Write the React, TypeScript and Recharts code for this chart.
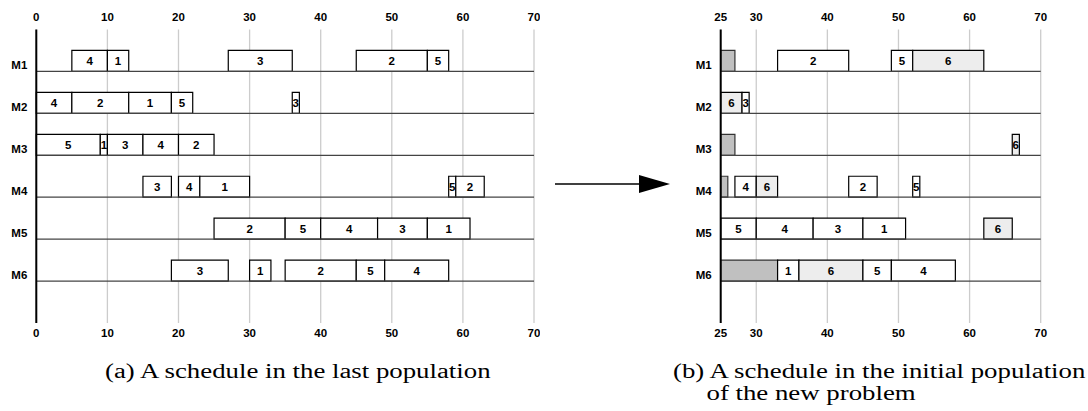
import React from 'react';
import { ComposedChart, XAxis, YAxis, CartesianGrid, ReferenceArea, ReferenceLine, Scatter } from 'recharts';

type Task = { job: string; start: number; end: number; kind?: 'busy' | 'new' };

const machineLabels = ['M1', 'M2', 'M3', 'M4', 'M5', 'M6'];
const machineRows = [1, 2, 3, 4, 5, 6];
const ticksLast = [0, 10, 20, 30, 40, 50, 60, 70];
const ticksNew = [25, 30, 40, 50, 60, 70];

// (a) schedule in the last population
const lastM1: Task[] = [
  { job: '4', start: 5, end: 10 }, { job: '1', start: 10, end: 13 }, { job: '3', start: 27, end: 36 },
  { job: '2', start: 45, end: 55 }, { job: '5', start: 55, end: 58 },
];
const lastM2: Task[] = [
  { job: '4', start: 0, end: 5 }, { job: '2', start: 5, end: 13 }, { job: '1', start: 13, end: 19 },
  { job: '5', start: 19, end: 22 }, { job: '3', start: 36, end: 37 },
];
const lastM3: Task[] = [
  { job: '5', start: 0, end: 9 }, { job: '1', start: 9, end: 10 }, { job: '3', start: 10, end: 15 },
  { job: '4', start: 15, end: 20 }, { job: '2', start: 20, end: 25 },
];
const lastM4: Task[] = [
  { job: '3', start: 15, end: 19 }, { job: '4', start: 20, end: 23 }, { job: '1', start: 23, end: 30 },
  { job: '5', start: 58, end: 59 }, { job: '2', start: 59, end: 63 },
];
const lastM5: Task[] = [
  { job: '2', start: 25, end: 35 }, { job: '5', start: 35, end: 40 }, { job: '4', start: 40, end: 48 },
  { job: '3', start: 48, end: 55 }, { job: '1', start: 55, end: 61 },
];
const lastM6: Task[] = [
  { job: '3', start: 19, end: 27 }, { job: '1', start: 30, end: 33 }, { job: '2', start: 35, end: 45 },
  { job: '5', start: 45, end: 49 }, { job: '4', start: 49, end: 58 },
];

// (b) schedule in the initial population of the new problem
const newM1: Task[] = [
  { job: '', start: 25, end: 27, kind: 'busy' }, { job: '2', start: 33, end: 43 },
  { job: '5', start: 49, end: 52 }, { job: '6', start: 52, end: 62, kind: 'new' },
];
const newM2: Task[] = [
  { job: '6', start: 25, end: 28, kind: 'new' }, { job: '3', start: 28, end: 29 },
];
const newM3: Task[] = [
  { job: '', start: 25, end: 27, kind: 'busy' }, { job: '6', start: 66, end: 67, kind: 'new' },
];
const newM4: Task[] = [
  { job: '', start: 25, end: 26, kind: 'busy' }, { job: '4', start: 27, end: 30 },
  { job: '6', start: 30, end: 33, kind: 'new' }, { job: '2', start: 43, end: 47 }, { job: '5', start: 52, end: 53 },
];
const newM5: Task[] = [
  { job: '5', start: 25, end: 30 }, { job: '4', start: 30, end: 38 }, { job: '3', start: 38, end: 45 },
  { job: '1', start: 45, end: 51 }, { job: '6', start: 62, end: 66, kind: 'new' },
];
const newM6: Task[] = [
  { job: '', start: 25, end: 33, kind: 'busy' }, { job: '1', start: 33, end: 36 },
  { job: '6', start: 36, end: 45, kind: 'new' }, { job: '5', start: 45, end: 49 }, { job: '4', start: 49, end: 58 },
];

const lastRows = [lastM1, lastM2, lastM3, lastM4, lastM5, lastM6];
const newRows = [newM1, newM2, newM3, newM4, newM5, newM6];

const captionA = '(a) A schedule in the last population';
const captionB1 = '(b) A schedule in the initial population';
const captionB2 = 'of the new problem';

const SANS = '"Liberation Sans", Arial, Helvetica, sans-serif';
const SERIF = '"Liberation Serif", "Times New Roman", serif';
const fillFor = (t: Task) => (t.kind === 'busy' ? '#c0c0c0' : t.kind === 'new' ? '#ededed' : '#ffffff');

const TopTick = (props: any) => (
  <text x={props.x} y={props.y - 9} textAnchor="middle" fontFamily={SANS} fontWeight="bold" fontSize={11.5} fill="#000">
    {props.payload.value}
  </text>
);
const BottomTick = (props: any) => (
  <text x={props.x} y={props.y + 14} textAnchor="middle" fontFamily={SANS} fontWeight="bold" fontSize={11.5} fill="#000">
    {props.payload.value}
  </text>
);
const MachineTick = (props: any) => (
  <text x={props.x} y={props.y - 2} textAnchor="end" fontFamily={SANS} fontWeight="bold" fontSize={11.5} fill="#000">
    {machineLabels[props.payload.value - 1]}
  </text>
);

const NoShape = () => <g />;

function Schedule({ rows, ticks, domain, width, yAxisWidth, marginRight }: {
  rows: Task[][]; ticks: number[]; domain: [number, number]; width: number; yAxisWidth: number; marginRight: number;
}) {
  const points = rows.flatMap((tasks, i) => tasks.map((t) => ({ x: t.start, y: machineRows[i] })));
  return (
    <ComposedChart width={width} height={345} margin={{ top: 0, right: marginRight, bottom: 0, left: 0 }}>
      <CartesianGrid xAxisId={0} yAxisId={0} horizontal={false} stroke="#cccccc" strokeWidth={1.3} />
      <XAxis xAxisId={0} orientation="top" type="number" dataKey="x" domain={domain} ticks={ticks} height={29.5}
        axisLine={false} tickLine={false} tickSize={0} tickMargin={0} tick={TopTick} allowDataOverflow interval={0} />
      <XAxis xAxisId={1} orientation="bottom" type="number" dataKey="x" domain={domain} ticks={ticks} height={22}
        axisLine={false} tickLine={false} tickSize={0} tickMargin={0} tick={BottomTick} allowDataOverflow interval={0} />
      <YAxis yAxisId={0} type="number" dataKey="y" domain={[0, 7]} reversed ticks={machineRows} width={yAxisWidth}
        axisLine={{ stroke: '#000', strokeWidth: 2 }} tickLine={false} tickSize={0} tickMargin={9}
        tick={MachineTick} allowDataOverflow interval={0} />
      <Scatter xAxisId={0} yAxisId={0} data={points} dataKey="y" shape={NoShape} isAnimationActive={false} legendType="none" />
      <Scatter xAxisId={1} yAxisId={0} data={points} dataKey="y" shape={NoShape} isAnimationActive={false} legendType="none" />
      {machineRows.map((r) => (
        <ReferenceLine key={'l' + r} xAxisId={0} yAxisId={0} y={r} stroke="#444" strokeWidth={1.3} />
      ))}
      {rows.flatMap((tasks, i) =>
        tasks.map((t, j) => (
          <ReferenceArea
            key={`a${i}-${j}`}
            xAxisId={0}
            yAxisId={0}
            x1={t.start}
            x2={t.end}
            y1={machineRows[i] - 0.5}
            y2={machineRows[i]}
            fill={fillFor(t)}
            fillOpacity={1}
            stroke={t.kind === 'busy' ? '#333' : '#000'}
            strokeWidth={1.2}
            ifOverflow="visible"
            label={t.job ? { value: t.job, position: 'center', fontSize: 11.5, fontWeight: 'bold', fill: '#000', fontFamily: SANS } : undefined}
          />
        ))
      )}
    </ComposedChart>
  );
}

const captionStyle: React.CSSProperties = {
  position: 'absolute',
  top: 360,
  fontFamily: SERIF,
  fontSize: 20,
  lineHeight: '22px',
  color: '#000',
  whiteSpace: 'nowrap',
  transform: 'scaleX(1.34)',
  transformOrigin: 'left top',
};

export default function App() {
  return (
    <div style={{ position: 'absolute', left: 0, top: 0, width: 1088, height: 411, background: '#fff', overflow: 'hidden' }}>
      <div style={{ position: 'absolute', left: 0, top: 0 }}>
        <Schedule rows={lastRows} ticks={ticksLast} domain={[0, 70]} width={540} yAxisWidth={36.3} marginRight={6} />
      </div>
      <div style={{ position: 'absolute', left: 684, top: 0 }}>
        <Schedule rows={newRows} ticks={ticksNew} domain={[25, 70]} width={364} yAxisWidth={36.7} marginRight={7.3} />
      </div>
      <svg style={{ position: 'absolute', left: 550, top: 170 }} width={130} height={30}>
        <line x1={5} y1={14} x2={92} y2={14} stroke="#000" strokeWidth={1.3} />
        <polygon points="89,5 120,14 89,23" fill="#000" />
      </svg>
      <div style={{ ...captionStyle, left: 105 }}>{captionA}</div>
      <div style={{ ...captionStyle, left: 673 }}>
        {captionB1}
        <br />
        <span style={{ paddingLeft: 25 }}>{captionB2}</span>
      </div>
    </div>
  );
}
